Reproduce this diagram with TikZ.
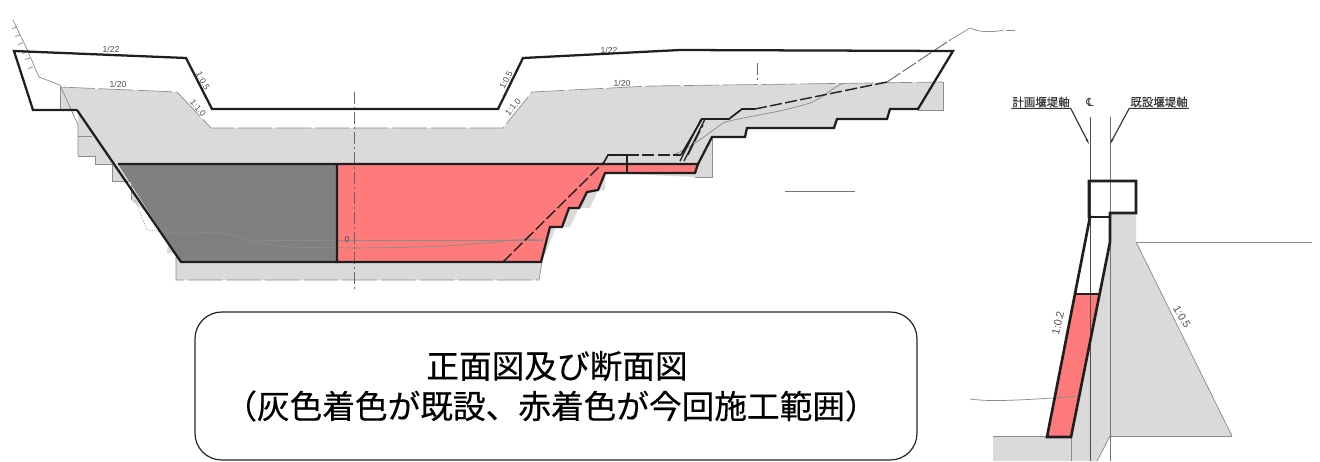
\documentclass[tikz,border=0pt]{standalone}
\usepackage{fontspec}
\usetikzlibrary{arrows.meta}
\setmainfont{Liberation Sans}
\newfontfamily\jpfont{Noto Sans CJK JP}
\newfontfamily\jpcap[FakeBold=0.3]{Noto Sans CJK JP}
\newfontfamily\symfont{DejaVu Sans}
\definecolor{dampgray}{HTML}{DADADA}
\definecolor{darkfill}{HTML}{808080}
\definecolor{redfill}{HTML}{FF7B7B}
\definecolor{thinline}{HTML}{8C8C8C}
\tikzset{
  outline/.style={draw=black!88,line width=1.7pt,line join=miter},
  fine/.style={draw=thinline,line width=0.55pt},
  fined/.style={draw=black!60,line width=0.6pt,dash pattern=on 9pt off 2pt on 2pt off 2pt},
  edged/.style={draw=black!45,line width=0.5pt,dash pattern=on 26pt off 3pt},
  dashthick/.style={draw=black!85,line width=1.1pt,dash pattern=on 9pt off 2.5pt},
  tinylab/.style={font=\fontsize{6.5}{7}\selectfont,text=black!70,inner sep=0pt},
  axislab/.style={font=\jpcap\fontsize{8.6}{9}\selectfont,text=black!80,inner sep=0.6pt},
  leader/.style={black!80,line width=0.85pt,-{Stealth[length=4pt,width=1.8pt]}},
  captionbox/.style={draw=black!85,line width=0.9pt,rounded corners=20pt,fill=white},
  captiontext/.style={font=\jpcap\fontsize{24.5}{25}\selectfont,inner sep=0pt}
}
\begin{document}
\begin{tikzpicture}[x=0.75pt,y=-0.75pt]
\useasboundingbox (0,0) rectangle (1320,461);
% ---- main section: existing dam grey
\fill[dampgray] (60,87) -- (177,92) -- (211,128) -- (503,128) -- (532,92) -- (650,86) -- (943,82) -- (943,110)
 -- (918,110) -- (890,110) -- (887,119) -- (837,119) -- (834,128) -- (747,128) -- (745,137) -- (712,137)
 -- (712,177) -- (695,177) -- (605,173) -- (605,190) -- (598,190) -- (590,208) -- (579,208) -- (570,227)
 -- (556,227) -- (542,262) -- (539,280) -- (176,280) -- (176,253) -- (167,253) -- (168,243) -- (148,214) -- (131,200)
 -- (131,181) -- (112,181) -- (112,164) -- (95,164) -- (95,156) -- (78,156) -- (78,110) -- (60,110) -- cycle;
% dark and red zones
\fill[darkfill] (118,164) -- (337,164) -- (337,262) -- (181,262) -- cycle;
\fill[redfill] (337,164) -- (603,164) -- (698,164) -- (695,173) -- (605,173) -- (598,190) -- (587,192) -- (579,208)
 -- (569,208) -- (562,227) -- (550,227) -- (541,262) -- (337,262) -- cycle;
% terrain and thin lines
\draw[fine] (13,20) -- (26,47) -- (39,77) -- (60,85) -- (78,125) -- (78,156);
\draw[fine,densely dotted] (135,200) -- (147,230) -- (167,232);
\foreach \a/\b in {17/27,20/35,23/43,27/52,30/58,33/67}
  \draw[fine] (\a,\b) -- ++(-5,1.5);
\draw[fine] (60,110) -- (60,87);
\draw[fine] (78,136) -- (92,136) (78,156) -- (95,156) -- (95,164) -- (112,164) -- (112,181) -- (131,181) -- (131,200);
\draw[edged] (176,253) -- (176,280) -- (539,280) -- (542,262);
\draw[fine] (943,82) -- (943,110) -- (918,110);
\draw[fine] (712,137) -- (712,177) -- (695,177);
\draw[edged] (60,87) -- (177,92) -- (211,128) -- (503,128) -- (532,92) -- (650,86) -- (943,82);
\draw[fine] (167,232) .. controls (190,236) and (205,230) .. (222,233) .. controls (245,238) and (262,246) .. (290,247)
  .. controls (360,249) and (460,248) .. (510,240) -- (543,239);
\draw[fine] (257,240) -- (543,240);
\draw[fine] (673,155) .. controls (690,148) and (705,136) .. (723,123) .. controls (735,118) and (775,114) .. (810,103)
  .. controls (825,97) and (835,85) .. (845,83);
\draw[fined] (354,92) -- (354,292);
\draw[fined] (757,63) -- (757,82);
\draw[draw=black!55,line width=0.6pt] (785,191) -- (855,191);
\draw[fine] (950,40) -- (970,28) .. controls (980,33) and (995,32) .. (1004,30);
\draw[fine] (1006,30) -- (1015,30);
% thick dashes
\draw[dashthick] (755,109) -- (887,82);
\draw[draw=black!55,line width=0.8pt,dash pattern=on 12pt off 2pt] (887,82) -- (950,40);
\draw[dashthick] (503,262) -- (603,163);
\draw[dashthick] (627,155) -- (681,155);
\draw[draw=black!85,line width=1pt] (680,161) -- (701,119) (684,161) -- (705,119);
\draw[dashthick,line width=0.9pt] (688,155) -- (703,125);
% outlines
\draw[outline] (77,110) -- (33,110) -- (14,51) -- (186,58) -- (212,109) -- (498,109) -- (523,58) -- (680,50) -- (953,51)
  -- (918,109) -- (890,109) -- (887,119) -- (837,119) -- (834,128) -- (747,128) -- (745,137) -- (712,137) -- (698,164);
\draw[outline] (77,110) -- (181,262) -- (337,262);
\draw[outline] (118,164) -- (698,164) -- (695,173) -- (605,173) -- (598,190) -- (587,192) -- (579,208) -- (569,208)
  -- (562,227) -- (550,227) -- (541,262) -- (337,262) -- (337,164);
\draw[outline,line width=1.2pt] (603,164) -- (608,155) -- (627,155) -- (627,173);
\draw[outline,line width=1.3pt] (681,155) -- (702,119) -- (729,119) -- (742,109) -- (755,109);
% labels on main section
\node[tinylab] (la) at (111,49) {1/22};
\node[tinylab] (lb) at (118,84) {1/20};
\node[tinylab,rotate=-63] (lc) at (203,81) {1:0.5};
\node[tinylab,rotate=-50] (ld) at (198,108) {1:1.0};
\node[tinylab,rotate=63] (le) at (506,80) {1:0.5};
\node[tinylab,rotate=50] (lf) at (513,107) {1:1.0};
\node[tinylab] (lg) at (609,50) {1/22};
\node[tinylab] (lh) at (622,83) {1/20};
\node[tinylab] (li) at (347,240) {0};
% ---- right section
\fill[dampgray] (1110,214) -- (1136,214) -- (1136,242) -- (1232,436) -- (1110,436) -- (1097,461) -- (993,461)
  -- (993,436) -- (1071,436) -- (1110,242) -- cycle;
\fill[redfill] (1076,294) -- (1099,294) -- (1071,437) -- (1047,437) -- cycle;
\draw[fine] (1136,242) -- (1312,242);
\draw[fine] (1136,242) -- (1232,436);
\draw[fine] (970,399) .. controls (990,402) and (1020,400) .. (1053,398) -- (1078,396);
\draw[fine] (1071,437) -- (1071,461);
\draw[fine] (1110,436) -- (1097,461);
\draw[fine] (993,436) -- (1047,436) (1110,436) -- (1232,436);
\draw[draw=black!70,line width=0.6pt] (1090,117) -- (1090,461);
\draw[draw=black!55,line width=0.6pt] (1110,117) -- (1110,461);
\draw[outline,line width=2pt] (1089,217) -- (1089,181) -- (1136,181) -- (1136,213) -- (1110,213) -- (1110,242) -- (1071,437) -- (1047,437) -- (1090,217) -- cycle;
\draw[outline,line width=1.6pt] (1089,217) -- (1110,217);
\draw[outline,line width=1.1pt] (1075,294) -- (1099,294);
\node[axislab] (p1) at (1041,102) {計画堰堤軸};
\node[axislab] (p2) at (1159,102) {既設堰堤軸};
\node[axislab,font=\symfont\fontsize{8.6}{9}\selectfont] (p3) at (1090,102) {℄};
\coordinate (e1) at (1089,144);
\coordinate (e2) at (1110,144);
\draw[leader] (p1.south west) -- (p1.south east) -- (e1);
\draw[leader] (p2.south east) -- (p2.south west) -- (e2);
\node[tinylab,rotate=77,font=\fontsize{8}{9}\selectfont] (q1) at (1058,323) {1:0.2};
\node[tinylab,rotate=-60,font=\fontsize{8}{9}\selectfont] (q2) at (1182,317) {1:0.5};
% ---- caption
\node[captionbox,minimum width=541.5pt,minimum height=111pt,inner sep=0pt] (box) at (556,386) {};
\node[captiontext] (t1) at (557,366) {正面図及び断面図};
\node[captiontext] (t2) at (551,406) {（灰色着色が既設、赤着色が今回施工範囲）};
\end{tikzpicture}
\end{document}
